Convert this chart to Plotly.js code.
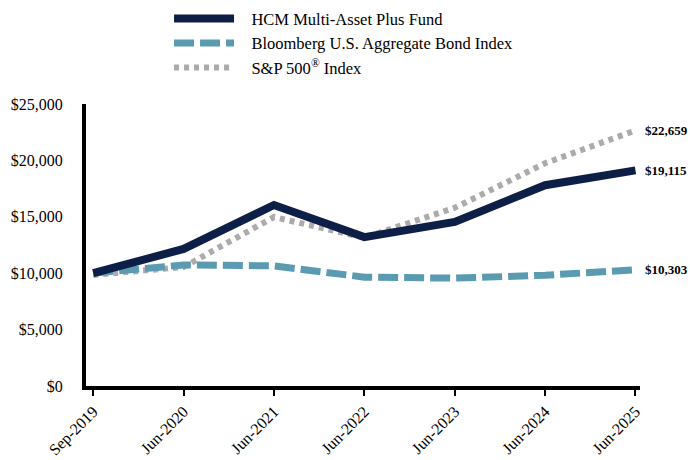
<!DOCTYPE html>
<html>
<head>
<meta charset="utf-8">
<script src="https://cdn.plot.ly/plotly-3.0.1.min.js"></script>
<style>html,body{margin:0;padding:0;background:#fff;}#chart{width:690px;height:460px;}</style>
</head>
<body>
<div id="chart"></div>
<script>
const categories = ["Sep-2019","Jun-2020","Jun-2021","Jun-2022","Jun-2023","Jun-2024","Jun-2025"];
const hcmValues = [10000, 12150, 16050, 13200, 14550, 17800, 19115];
const bondValues = [10000, 10730, 10650, 9650, 9560, 9820, 10303];
const spValues = [9850, 10550, 14980, 13150, 15800, 19750, 22659];
const seriesNames = ["HCM Multi-Asset Plus Fund", "Bloomberg U.S. Aggregate Bond Index", "S&P 500<sup>®</sup> Index"];
const endLabels = ["$19,115", "$10,303", "$22,659"];
const yTicks = [0, 5000, 10000, 15000, 20000, 25000];

const font = "Liberation Serif, Times New Roman, serif";
const xIdx = categories.map((c, i) => i);
const pad = "\u00A0\u00A0\u00A0";

const traces = [
  {x: xIdx, y: spValues, name: pad + seriesNames[2], mode: "lines", legendrank: 3,
   line: {color: "#ababab", width: 6, dash: "5px,5px"}},
  {x: xIdx, y: bondValues, name: pad + seriesNames[1], mode: "lines", legendrank: 2,
   line: {color: "#5a9bb1", width: 7, dash: "20px,6px"}},
  {x: xIdx, y: hcmValues, name: pad + seriesNames[0], mode: "lines", legendrank: 1,
   line: {color: "#0e1f47", width: 8}}
];

const finals = [hcmValues[6], bondValues[6], spValues[6]];
const annotations = finals.map((v, i) => ({
  x: 6, y: v, xref: "x", yref: "y", text: "<b>" + endLabels[i] + "</b>",
  showarrow: false, xanchor: "left", yanchor: "middle", xshift: 8,
  font: {family: font, size: 13, color: "#000"}
}));

const layout = {
  width: 690, height: 460,
  margin: {l: 86, r: 50, t: 104, b: 74, autoexpand: false},
  paper_bgcolor: "#fff", plot_bgcolor: "#fff",
  font: {family: font, size: 16, color: "#000"},
  showlegend: true,
  legend: {xref: "container", yref: "container", x: 0.245, y: 0.997, xanchor: "left", yanchor: "top",
           itemwidth: 60, font: {family: font, size: 16.5, color: "#000"}, tracegroupgap: 0,
           bgcolor: "rgba(0,0,0,0)"},
  xaxis: {
    range: [-0.08, 6.05], tickmode: "array", tickvals: xIdx, ticktext: categories,
    tickangle: -45, showgrid: false, zeroline: false, automargin: false,
    showline: true, linecolor: "#000", linewidth: 4,
    ticks: "outside", ticklen: 6, tickwidth: 2, tickcolor: "#000",
    tickfont: {family: font, size: 16, color: "#000"}
  },
  yaxis: {
    range: [0, 25000], tickmode: "array", tickvals: yTicks,
    ticktext: yTicks.map(v => "$" + v.toLocaleString("en-US")),
    showgrid: false, zeroline: false, automargin: false,
    showline: true, linecolor: "#000", linewidth: 4, ticks: "",
    ticklabelstandoff: 16,
    tickfont: {family: font, size: 16, color: "#000"}
  },
  annotations: annotations
};

Plotly.newPlot("chart", traces, layout, {displayModeBar: false, staticPlot: true});
</script>
</body>
</html>
